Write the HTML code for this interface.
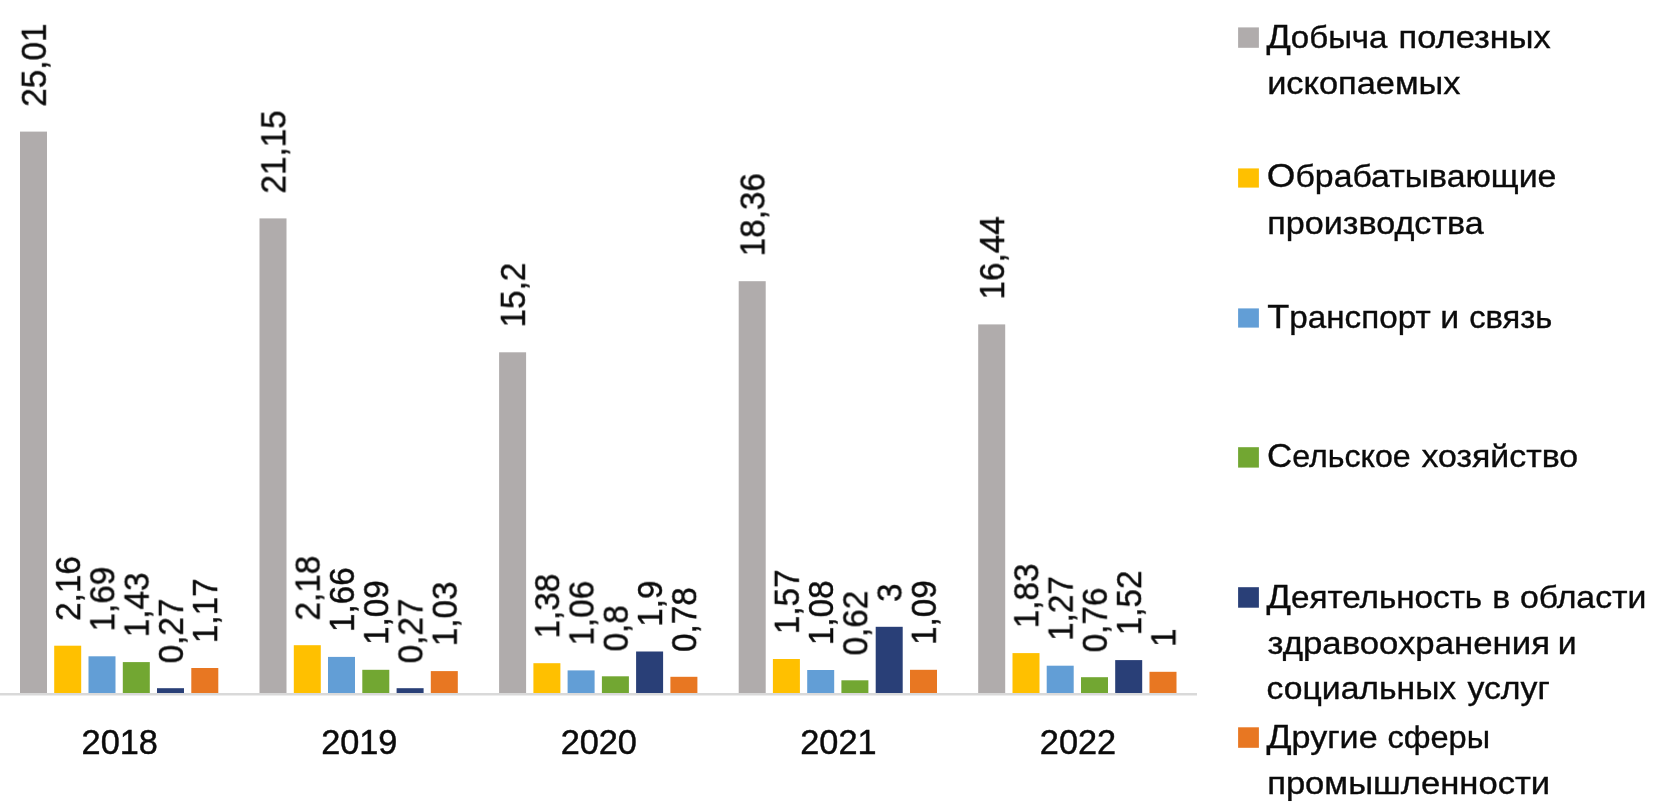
<!DOCTYPE html>
<html lang="ru"><head><meta charset="utf-8"><title>Chart</title>
<style>html,body{margin:0;padding:0;background:#fff}body{width:1654px;height:806px;overflow:hidden}svg{display:block}text{will-change:transform;stroke:#0b0b0b;stroke-width:0.45px;font-family:"Liberation Sans",sans-serif;fill:#0b0b0b}</style></head><body>
<svg width="1654" height="806" viewBox="0 0 1654 806">
<rect width="1654" height="806" fill="#fff"/>
<rect x="20.0" y="131.6" width="27.0" height="561.9" fill="#B0ACAC"/>
<text transform="translate(45.8,106.8) rotate(-90) scale(0.950,1)" font-size="35">25,01</text>
<rect x="54.2" y="645.7" width="27.0" height="47.8" fill="#FFC000"/>
<text transform="translate(80.1,620.9) rotate(-90) scale(0.950,1)" font-size="35">2,16</text>
<rect x="88.5" y="656.3" width="27.0" height="37.2" fill="#629ED6"/>
<text transform="translate(114.3,631.5) rotate(-90) scale(0.950,1)" font-size="35">1,69</text>
<rect x="122.8" y="662.1" width="27.0" height="31.4" fill="#72A732"/>
<text transform="translate(148.6,637.3) rotate(-90) scale(0.950,1)" font-size="35">1,43</text>
<rect x="157.0" y="688.2" width="27.0" height="5.3" fill="#293F77"/>
<text transform="translate(182.9,663.4) rotate(-90) scale(0.950,1)" font-size="35">0,27</text>
<rect x="191.3" y="668.0" width="27.0" height="25.5" fill="#E87722"/>
<text transform="translate(217.1,643.2) rotate(-90) scale(0.950,1)" font-size="35">1,17</text>
<rect x="259.5" y="218.4" width="27.0" height="475.1" fill="#B0ACAC"/>
<text transform="translate(285.4,193.6) rotate(-90) scale(0.950,1)" font-size="35">21,15</text>
<rect x="293.8" y="645.2" width="27.0" height="48.2" fill="#FFC000"/>
<text transform="translate(319.6,620.5) rotate(-90) scale(0.950,1)" font-size="35">2,18</text>
<rect x="328.0" y="656.9" width="27.0" height="36.6" fill="#629ED6"/>
<text transform="translate(353.9,632.1) rotate(-90) scale(0.950,1)" font-size="35">1,66</text>
<rect x="362.3" y="669.8" width="27.0" height="23.7" fill="#72A732"/>
<text transform="translate(388.2,645.0) rotate(-90) scale(0.950,1)" font-size="35">1,09</text>
<rect x="396.6" y="688.2" width="27.0" height="5.3" fill="#293F77"/>
<text transform="translate(422.4,663.4) rotate(-90) scale(0.950,1)" font-size="35">0,27</text>
<rect x="430.8" y="671.1" width="27.0" height="22.4" fill="#E87722"/>
<text transform="translate(456.7,646.3) rotate(-90) scale(0.950,1)" font-size="35">1,03</text>
<rect x="499.1" y="352.3" width="27.0" height="341.2" fill="#B0ACAC"/>
<text transform="translate(524.9,327.5) rotate(-90) scale(0.950,1)" font-size="35">15,2</text>
<rect x="533.4" y="663.2" width="27.0" height="30.2" fill="#FFC000"/>
<text transform="translate(559.2,638.5) rotate(-90) scale(0.950,1)" font-size="35">1,38</text>
<rect x="567.6" y="670.4" width="27.0" height="23.1" fill="#629ED6"/>
<text transform="translate(593.5,645.6) rotate(-90) scale(0.950,1)" font-size="35">1,06</text>
<rect x="601.9" y="676.3" width="27.0" height="17.2" fill="#72A732"/>
<text transform="translate(627.7,651.5) rotate(-90) scale(0.950,1)" font-size="35">0,8</text>
<rect x="636.1" y="651.5" width="27.0" height="42.0" fill="#293F77"/>
<text transform="translate(662.0,626.8) rotate(-90) scale(0.950,1)" font-size="35">1,9</text>
<rect x="670.4" y="676.8" width="27.0" height="16.8" fill="#E87722"/>
<text transform="translate(696.2,652.0) rotate(-90) scale(0.950,1)" font-size="35">0,78</text>
<rect x="738.7" y="281.2" width="27.0" height="412.3" fill="#B0ACAC"/>
<text transform="translate(764.5,256.4) rotate(-90) scale(0.950,1)" font-size="35">18,36</text>
<rect x="772.9" y="659.0" width="27.0" height="34.5" fill="#FFC000"/>
<text transform="translate(798.8,634.2) rotate(-90) scale(0.950,1)" font-size="35">1,57</text>
<rect x="807.2" y="670.0" width="27.0" height="23.5" fill="#629ED6"/>
<text transform="translate(833.0,645.2) rotate(-90) scale(0.950,1)" font-size="35">1,08</text>
<rect x="841.4" y="680.3" width="27.0" height="13.2" fill="#72A732"/>
<text transform="translate(867.3,655.5) rotate(-90) scale(0.950,1)" font-size="35">0,62</text>
<rect x="875.7" y="626.8" width="27.0" height="66.7" fill="#293F77"/>
<text transform="translate(901.5,602.0) rotate(-90) scale(0.950,1)" font-size="35">3</text>
<rect x="910.0" y="669.8" width="27.0" height="23.7" fill="#E87722"/>
<text transform="translate(935.8,645.0) rotate(-90) scale(0.950,1)" font-size="35">1,09</text>
<rect x="978.2" y="324.4" width="27.0" height="369.1" fill="#B0ACAC"/>
<text transform="translate(1004.1,299.6) rotate(-90) scale(0.950,1)" font-size="35">16,44</text>
<rect x="1012.5" y="653.1" width="27.0" height="40.4" fill="#FFC000"/>
<text transform="translate(1038.3,628.3) rotate(-90) scale(0.950,1)" font-size="35">1,83</text>
<rect x="1046.7" y="665.7" width="27.0" height="27.8" fill="#629ED6"/>
<text transform="translate(1072.6,640.9) rotate(-90) scale(0.950,1)" font-size="35">1,27</text>
<rect x="1081.0" y="677.2" width="27.0" height="16.3" fill="#72A732"/>
<text transform="translate(1106.8,652.4) rotate(-90) scale(0.950,1)" font-size="35">0,76</text>
<rect x="1115.2" y="660.1" width="27.0" height="33.4" fill="#293F77"/>
<text transform="translate(1141.1,635.3) rotate(-90) scale(0.950,1)" font-size="35">1,52</text>
<rect x="1149.5" y="671.8" width="27.0" height="21.7" fill="#E87722"/>
<text transform="translate(1175.4,647.0) rotate(-90) scale(0.950,1)" font-size="35">1</text>
<rect x="0" y="693" width="1197" height="2.5" fill="#D9D9D9"/>
<text transform="translate(119.7,753.9) scale(0.98,1)" font-size="35" text-anchor="middle">2018</text>
<text transform="translate(359.3,753.9) scale(0.98,1)" font-size="35" text-anchor="middle">2019</text>
<text transform="translate(598.8,753.9) scale(0.98,1)" font-size="35" text-anchor="middle">2020</text>
<text transform="translate(838.4,753.9) scale(0.98,1)" font-size="35" text-anchor="middle">2021</text>
<text transform="translate(1078.0,753.9) scale(0.98,1)" font-size="35" text-anchor="middle">2022</text>
<rect x="1238.1" y="27.4" width="20.8" height="20.4" fill="#B0ACAC"/>
<text transform="translate(1266.55,47.8) scale(1.0655,1)" font-size="31" style="stroke-width:0.35px"><tspan font-size="33.7">Д</tspan>обыча</text>
<text transform="translate(1398.53,47.8) scale(1.1105,1)" font-size="31" style="stroke-width:0.35px">полезных</text>
<text transform="translate(1267.16,93.8) scale(1.1093,1)" font-size="31" style="stroke-width:0.35px">ископаемых</text>
<rect x="1238.1" y="168.4" width="20.8" height="19.2" fill="#FFC000"/>
<text transform="translate(1266.82,187.3) scale(1.0924,1)" font-size="31" style="stroke-width:0.35px"><tspan font-size="33.7">О</tspan>брабатывающие</text>
<text transform="translate(1267.18,233.6) scale(1.1021,1)" font-size="31" style="stroke-width:0.35px">производства</text>
<rect x="1238.1" y="308.4" width="20.8" height="19.2" fill="#629ED6"/>
<text transform="translate(1267.16,327.5) scale(1.0728,1)" font-size="31" style="stroke-width:0.35px"><tspan font-size="33.7">Т</tspan>ранспорт</text>
<text transform="translate(1440.26,327.5) scale(1.0900,1)" font-size="31" style="stroke-width:0.35px">и</text>
<text transform="translate(1469.25,327.5) scale(1.0547,1)" font-size="31" style="stroke-width:0.35px">связь</text>
<rect x="1238.1" y="447.2" width="20.8" height="20.4" fill="#72A732"/>
<text transform="translate(1266.92,467.4) scale(1.0370,1)" font-size="31" style="stroke-width:0.35px"><tspan font-size="33.7">С</tspan>ельское</text>
<text transform="translate(1421.46,467.4) scale(1.0929,1)" font-size="31" style="stroke-width:0.35px">хозяйство</text>
<rect x="1238.1" y="587.2" width="20.8" height="20.5" fill="#293F77"/>
<text transform="translate(1266.54,607.7) scale(1.0714,1)" font-size="31" style="stroke-width:0.35px"><tspan font-size="33.7">Д</tspan>еятельность</text>
<text transform="translate(1492.20,607.7) scale(1.0900,1)" font-size="31" style="stroke-width:0.35px">в</text>
<text transform="translate(1519.98,607.7) scale(1.0911,1)" font-size="31" style="stroke-width:0.35px">области</text>
<text transform="translate(1267.57,653.7) scale(1.1213,1)" font-size="31" style="stroke-width:0.35px">здравоохранения</text>
<text transform="translate(1557.78,653.7) scale(1.0900,1)" font-size="31" style="stroke-width:0.35px">и</text>
<text transform="translate(1266.60,698.9) scale(1.0867,1)" font-size="31" style="stroke-width:0.35px">социальных</text>
<text transform="translate(1467.46,698.9) scale(1.0892,1)" font-size="31" style="stroke-width:0.35px">услуг</text>
<rect x="1238.1" y="727.3" width="20.8" height="20.5" fill="#E87722"/>
<text transform="translate(1266.52,747.5) scale(1.0991,1)" font-size="31" style="stroke-width:0.35px"><tspan font-size="33.7">Д</tspan>ругие</text>
<text transform="translate(1387.51,747.5) scale(1.0490,1)" font-size="31" style="stroke-width:0.35px">сферы</text>
<text transform="translate(1267.14,793.5) scale(1.1165,1)" font-size="31" style="stroke-width:0.35px">промышленности</text>
</svg></body></html>
